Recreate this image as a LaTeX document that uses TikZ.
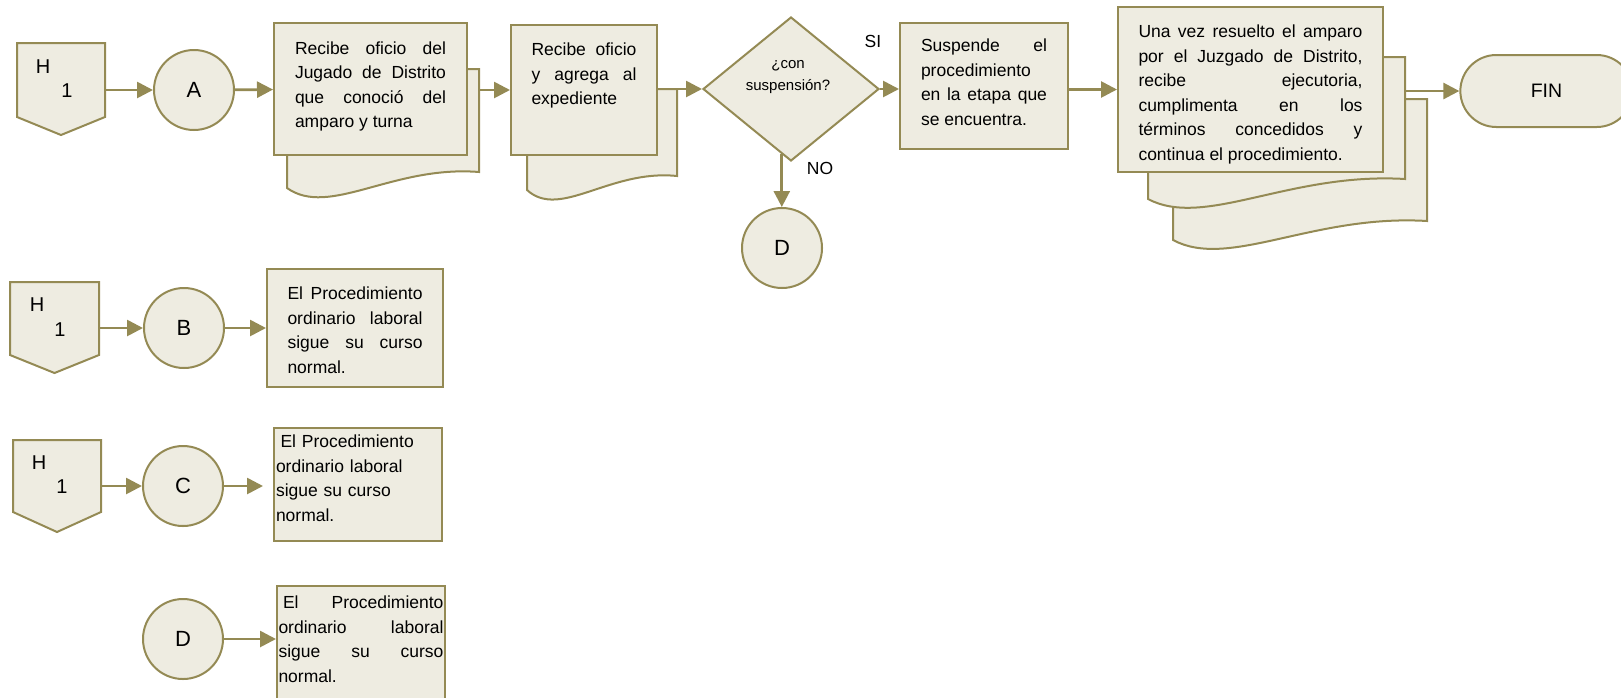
\documentclass[tikz,border=0pt]{standalone}
\usepackage{fontspec}
\setmainfont{Liberation Sans}
\usetikzlibrary{shapes.geometric,shapes.misc,arrows.meta,positioning}
\definecolor{oliva}{RGB}{148,138,84}
\definecolor{crema}{RGB}{238,236,225}
\tolerance=10000 \hbadness=10000 \hyphenpenalty=10000

% hoja de documento con borde inferior ondulado: x1 y1 x2 yder yizq
\newcommand{\docpage}[5]{%
  \draw[hoja] (#1,#2) -- (#3,#2) -- (#3,#4)
    .. controls ({#3-0.45*(#3-#1)},{#4-7}) and ({#1+0.22*(#3-#1)},{#5+30}) .. (#1,#5) -- cycle;}
% conector fuera de pagina: nombre x1 y1 x2 y2 punta
\newcommand{\conpag}[6]{%
  \draw[hoja] (#2,#3) -- (#4,#3) -- (#4,#5) -- ({(#2+#4)/2},#6) -- (#2,#5) -- cycle;
  \coordinate (#1) at (#4,{(#3+#5)/2});}

\begin{document}
\begin{tikzpicture}[x=1pt,y=-1pt,>={Triangle[length=16pt,width=16pt]},
hoja/.style={draw=oliva,fill=crema,line width=2pt},
proceso/.style={rectangle,draw=oliva,fill=crema,line width=2pt,inner sep=0pt,
    align=justify,font={\fontsize{17.5}{24.5}\selectfont}},
conector/.style={circle,draw=oliva,fill=crema,line width=2pt,minimum size=80pt,
    inner sep=0pt,font={\fontsize{22}{26}\selectfont}},
decision/.style={diamond,draw=oliva,fill=crema,line width=2pt,
    minimum width=176pt,minimum height=144pt,inner sep=0pt},
terminal/.style={rounded rectangle,draw=oliva,fill=crema,line width=2pt,
    minimum width=179pt,minimum height=72pt,font={\fontsize{19.5}{22}\selectfont}},
letra/.style={inner sep=0pt,font={\fontsize{20}{24}\selectfont}},
etiqueta/.style={inner sep=0pt,font={\fontsize{17.5}{20}\selectfont}}]
\useasboundingbox (0,0) rectangle (1621,697);

% fila A
\conpag{h1a}{17}{43}{105}{117}{135}
\node[letra] (h1aH) at (43,67) {H};
\node[letra] (h1a1) at (67,91) {1};
\node[conector] (A) at (194,90) {A};
\docpage{287}{69}{479}{172}{188}
\coordinate (p1b) at (479,90);
\node[proceso,minimum width=193pt,minimum height=132pt,text width=151pt,text depth=82pt] (p1) at (370.5,89)
    {Recibe oficio del\linebreak Jugado de Distrito\linebreak que conoció del\linebreak amparo y turna};
\docpage{527}{89}{677}{176}{190}
\coordinate (p2b) at (677,89);
\node[proceso,minimum width=146pt,minimum height=130pt,text width=105pt,text depth=81pt] (p2) at (584,90)
    {Recibe oficio\linebreak y agrega al\linebreak expediente};
\node[decision] (dia) at (791,89) {};
\node[inner sep=0pt,align=center,font={\fontsize{15}{22}\selectfont}] (diat) at (788,77) {¿con\\suspensión?};
\node[etiqueta] (si) at (873,41) {SI};
\node[etiqueta] (no) at (820,168) {NO};
\node[conector] (D) at (782,248) {D};
\node[proceso,minimum width=168pt,minimum height=126pt,text width=126pt,text depth=81pt] (sus) at (984,86)
    {Suspende el\linebreak procedimiento\linebreak en la etapa que\linebreak se encuentra.};
\docpage{1173}{99}{1427}{221}{240}
\docpage{1148}{57}{1405}{179}{199}
\coordinate (bgb) at (1405,91);
\node[proceso,minimum width=265pt,minimum height=165pt,text width=224pt,text depth=116pt] (bg) at (1250.5,89.5)
    {Una vez resuelto el amparo\linebreak por el Juzgado de Distrito,\linebreak recibe ejecutoria,\linebreak
     cumplimenta en los\linebreak términos concedidos y\linebreak continua el procedimiento.};
\node[terminal] (fin) at (1546.5,91) {FIN};

% fila B
\conpag{h1b}{10}{282}{99}{355}{373}
\node[letra] (h1bH) at (37,305) {H};
\node[letra] (h1b1) at (60,330) {1};
\node[conector] (B) at (184,328) {B};
\node[proceso,minimum width=176pt,minimum height=118pt,text width=135pt,text depth=69pt] (pb) at (355,328)
    {El Procedimiento\linebreak ordinario laboral\linebreak sigue su curso\linebreak normal.};

% fila C
\conpag{h1c}{13}{440}{101}{512}{532}
\node[letra] (h1cH) at (39,463) {H};
\node[letra] (h1c1) at (62,487) {1};
\node[conector] (C) at (183,486) {C};
\node[proceso,align=left,minimum width=168pt,minimum height=113pt,text width=164pt,inner xsep=2pt,text depth=86pt] (pc) at (358,484.5)
    {\kern4.5pt El Procedimiento\\ordinario laboral\\sigue su curso\\normal.};
\coordinate (pcin) at (263,486);

% fila D
\node[conector] (D2) at (183,639) {D};
\node[proceso,anchor=north,minimum width=168pt,text width=165pt,inner xsep=1.5pt,inner ysep=10pt,text depth=130pt] (pd) at (361,585)
    {\kern4.5pt El Procedimiento\linebreak ordinario laboral\linebreak sigue su curso\linebreak normal.};

\path[->,color=oliva,line width=2.7pt] (h1a |- A) edge (A)
      (A) edge (p1)
      (p1b) edge (p1b -| p2.west)
      (p2b) edge (dia)
      (dia) edge (dia -| sus.west)
      (dia.-98) edge (dia.-98 |- D.north)
      (sus.east |- bg) edge (bg)
      (bgb) edge (bgb -| fin.west)
      (h1b |- B) edge (B)
      (B) edge (pb)
      (h1c |- C) edge (C)
      (C) edge (pcin)
      (D2) edge (pd.west |- D2);
\end{tikzpicture}
\end{document}
